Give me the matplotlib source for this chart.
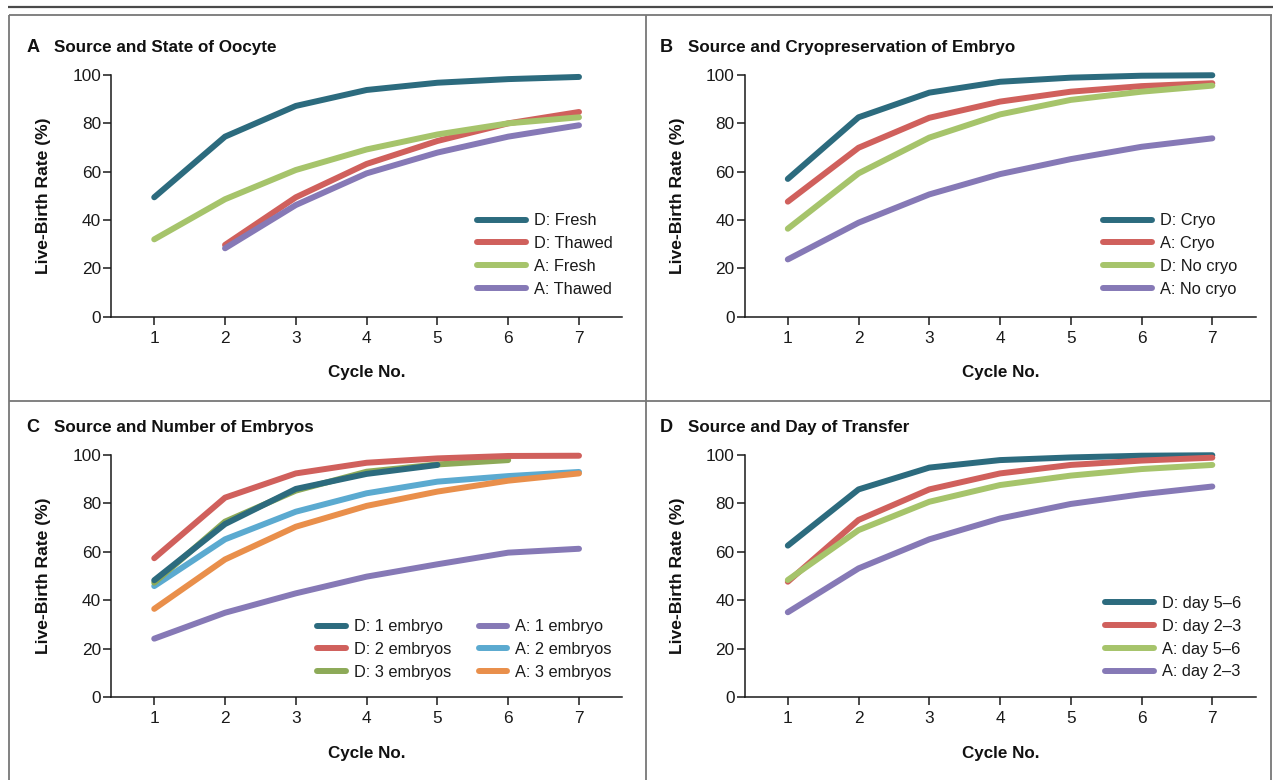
import matplotlib
matplotlib.use('Agg')
import matplotlib.pyplot as plt
from matplotlib import font_manager as fm
from matplotlib.lines import Line2D

# ---------------- data ----------------
cycles = [1, 2, 3, 4, 5, 6, 7]

# Panel A: Source and State of Oocyte
a_d_fresh = [49.4, 74.5, 87.2, 93.8, 96.8, 98.3, 99.2]
a_d_thawed = [29.7, 49.4, 63.2, 72.7, 80.0, 84.7]          # cycles 2-7
a_a_fresh = [32.0, 48.6, 60.7, 69.2, 75.4, 80.0, 82.5]
a_a_thawed = [28.3, 46.2, 59.3, 67.9, 74.5, 79.2]          # cycles 2-7

# Panel B: Source and Cryopreservation of Embryo
b_d_cryo = [57.0, 82.5, 92.7, 97.2, 98.9, 99.7, 99.9]
b_a_cryo = [47.6, 69.9, 82.3, 89.0, 93.1, 95.4, 96.6]
b_d_nocryo = [36.4, 59.3, 74.1, 83.7, 89.7, 93.1, 95.6]
b_a_nocryo = [23.7, 38.9, 50.6, 59.0, 65.2, 70.3, 73.8]

# Panel C: Source and Number of Embryos
c_d_1 = [48.3, 71.5, 86.0, 92.2, 95.9]                     # cycles 1-5
c_d_2 = [57.4, 82.4, 92.4, 96.8, 98.6, 99.6, 99.7]
c_d_3 = [47.3, 72.5, 85.3, 93.1, 96.1, 97.9]               # cycles 1-6
c_a_1 = [24.2, 34.9, 42.9, 49.8, 54.9, 59.7, 61.3]
c_a_2 = [45.9, 65.2, 76.6, 84.2, 89.0, 91.3, 93.0]
c_a_3 = [36.5, 56.9, 70.4, 79.0, 84.9, 89.4, 92.4]

# Panel D: Source and Day of Transfer
d_d_56 = [62.6, 85.8, 94.8, 97.9, 99.0, 99.7, 99.9]
d_d_23 = [47.7, 73.2, 85.8, 92.4, 95.9, 97.7, 98.9]
d_a_56 = [48.4, 69.0, 80.7, 87.6, 91.5, 94.2, 95.9]
d_a_23 = [35.1, 53.2, 65.2, 73.8, 79.8, 83.8, 87.0]

yticks = [0, 20, 40, 60, 80, 100]
panel_letters = ['A', 'B', 'C', 'D']
panel_titles = ['Source and State of Oocyte',
                'Source and Cryopreservation of Embryo',
                'Source and Number of Embryos',
                'Source and Day of Transfer']
ylabel = 'Live-Birth Rate (%)'
xlabel = 'Cycle No.'

# ---------------- style ----------------
TEAL = '#2C6B7E'
RED = '#D0605C'
GREEN = '#A6C46B'
PURPLE = '#8679B6'
LBLUE = '#5BAAD0'
ORANGE = '#E98F4B'
OLIVE = '#8DAA58'

avail = {f.name for f in fm.fontManager.ttflist}
if 'Liberation Sans Narrow' in avail:
    FONT, S = 'Liberation Sans Narrow', 1.0
elif 'Liberation Sans' in avail:
    FONT, S = 'Liberation Sans', 0.84
else:
    FONT, S = 'DejaVu Sans', 0.75
plt.rcParams['font.family'] = [FONT, 'DejaVu Sans']

W, H = 1273, 780
fig = plt.figure(figsize=(W / 100, H / 100), dpi=100)
fig.patch.set_facecolor('white')


def fx(x):
    return x / W


def fy(y):
    return 1 - y / H


# frame lines
def fline(x0, y0, x1, y1, color, lw):
    fig.add_artist(Line2D([fx(x0), fx(x1)], [fy(y0), fy(y1)], transform=fig.transFigure,
                          color=color, lw=lw, solid_capstyle='butt'))


fline(8, 6.5, 1273, 6.5, '#4a4a4a', 1.6)
fline(8.5, 14.5, 1271.5, 14.5, '#777777', 1.3)
fline(9, 14.5, 9, 780, '#777777', 1.3)
fline(1271, 14.5, 1271, 780, '#777777', 1.3)
fline(645.7, 14.5, 645.7, 780, '#777777', 1.3)
fline(9, 401.5, 1271, 401.5, '#777777', 1.3)

# axes boxes in pixels: left, right, top, bottom
boxes = [(111.4, 622.4, 75, 316.7), (745, 1255.7, 75, 316.7),
         (111.4, 622.4, 455, 697.3), (745, 1255.7, 455, 697.3)]
axes = []
for (l, r, t, b) in boxes:
    ax = fig.add_axes([fx(l), fy(b), (r - l) / W, (b - t) / H])
    ax.set_xlim(0.395, 7.613)
    ax.set_ylim(0, 100)
    for s in ['top', 'right']:
        ax.spines[s].set_visible(False)
    for s in ['left', 'bottom']:
        ax.spines[s].set_color('#1a1a1a')
        ax.spines[s].set_linewidth(1.1)
    ax.set_xticks(cycles)
    ax.set_yticks(yticks)
    ax.tick_params(axis='both', direction='out', length=5.5, width=1.1, color='#1a1a1a',
                   labelsize=14.8 * S, labelcolor='#1a1a1a')
    ax.tick_params(axis='y', pad=2)
    ax.tick_params(axis='x', pad=4.5)
    ax.patch.set_alpha(0)
    axes.append(ax)

LW = 4.3


def plot(ax, x, y, color, label, z=3):
    ln, = ax.plot(x, y, color=color, lw=LW, solid_capstyle='round', solid_joinstyle='round',
                  label=label, clip_on=False, zorder=z)
    return ln


def legend(ax, handles, hx0, hx1, row1_y):
    fs = 14 * S
    em = fs * 100 / 72
    hl = (hx1 - hx0 - 6) / em
    rowh = 0.93 * em
    leg = ax.legend(handles=handles, loc='upper left',
                    bbox_to_anchor=(fx(hx0 + 3), fy(row1_y - rowh / 2)),
                    bbox_transform=fig.transFigure, frameon=False, borderpad=0,
                    borderaxespad=0, handlelength=hl, handletextpad=0.5,
                    labelspacing=(23 - rowh) / em, fontsize=fs)
    for t in leg.get_texts():
        t.set_color('#1a1a1a')
    return leg


# Panel A
ax = axes[0]
h = [plot(ax, cycles, a_d_fresh, TEAL, 'D: Fresh'),
     plot(ax, cycles[1:], a_d_thawed, RED, 'D: Thawed'),
     plot(ax, cycles, a_a_fresh, GREEN, 'A: Fresh'),
     plot(ax, cycles[1:], a_a_thawed, PURPLE, 'A: Thawed')]
legend(ax, h, 473.5, 528.6, 221)

# Panel B
ax = axes[1]
h = [plot(ax, cycles, b_d_cryo, TEAL, 'D: Cryo'),
     plot(ax, cycles, b_a_cryo, RED, 'A: Cryo'),
     plot(ax, cycles, b_d_nocryo, GREEN, 'D: No cryo'),
     plot(ax, cycles, b_a_nocryo, PURPLE, 'A: No cryo')]
legend(ax, h, 1100, 1154.7, 221)

# Panel C
ax = axes[2]
hd1 = plot(ax, cycles[:5], c_d_1, TEAL, 'D: 1 embryo', z=3.5)
hd2 = plot(ax, cycles, c_d_2, RED, 'D: 2 embryos', z=3.6)
hd3 = plot(ax, cycles[:6], c_d_3, OLIVE, 'D: 3 embryos', z=3.4)
ha1 = plot(ax, cycles, c_a_1, PURPLE, 'A: 1 embryo')
ha2 = plot(ax, cycles, c_a_2, LBLUE, 'A: 2 embryos')
ha3 = plot(ax, cycles, c_a_3, ORANGE, 'A: 3 embryos', z=3.1)
leg1 = legend(ax, [hd1, hd2, hd3], 314, 349, 627)
ax.add_artist(leg1)
legend(ax, [ha1, ha2, ha3], 475.5, 510, 627)

# Panel D
ax = axes[3]
h = [plot(ax, cycles, d_d_56, TEAL, 'D: day 5\u20136'),
     plot(ax, cycles, d_d_23, RED, 'D: day 2\u20133'),
     plot(ax, cycles, d_a_56, GREEN, 'A: day 5\u20136'),
     plot(ax, cycles, d_a_23, PURPLE, 'A: day 2\u20133')]
legend(ax, h, 1102, 1157, 603.5)

# titles and axis labels
title_pos = [(26.5, 54.3, 51.7), (660, 687.6, 51.7), (26.5, 54.3, 431.7), (659.4, 687.6, 431.7)]
for i, (lx, tx, by) in enumerate(title_pos):
    fig.text(fx(lx), fy(by), panel_letters[i], fontsize=15.5 * S, fontweight='bold',
             ha='left', va='baseline', color='#111111')
    fig.text(fx(tx), fy(by), panel_titles[i], fontsize=14.6 * S, fontweight='bold',
             ha='left', va='baseline', color='#111111')

for i, (l, r, t, b) in enumerate(boxes):
    ylx = 44 if l < 600 else 678
    fig.text(fx(ylx), fy((t + b) / 2), ylabel, rotation=90, fontsize=15 * S,
             fontweight='bold', ha='center', va='center', color='#111111')
    fig.text(fx((l + r) / 2), fy(b + 60.3), xlabel, fontsize=14.6 * S, fontweight='bold',
             ha='center', va='baseline', color='#111111')

fig.savefig('out.png', dpi=100, facecolor='white')
